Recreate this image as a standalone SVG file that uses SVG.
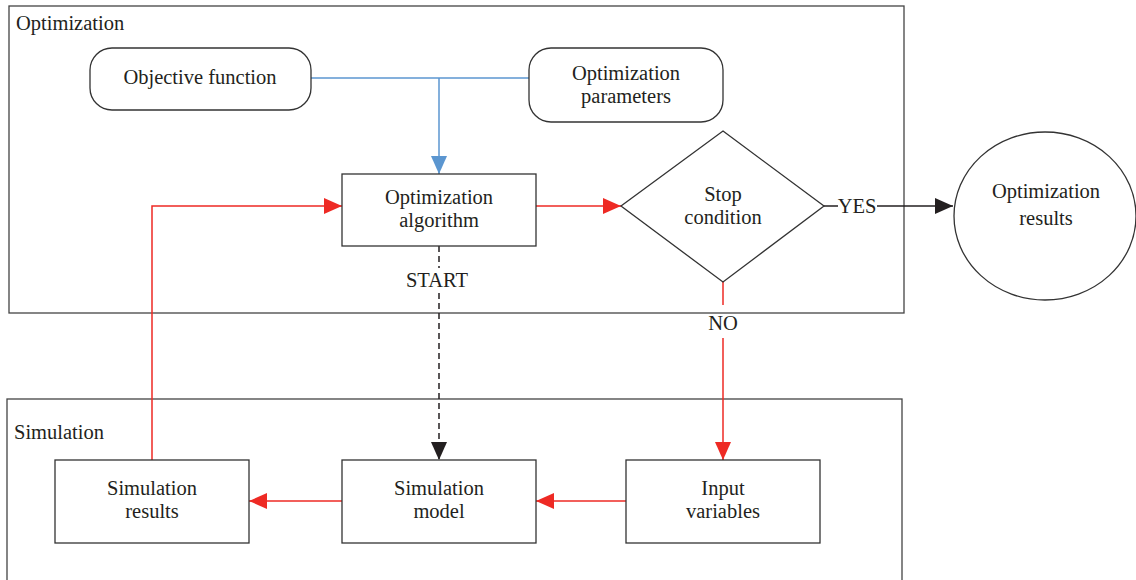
<svg xmlns="http://www.w3.org/2000/svg" width="1136" height="580" viewBox="0 0 1136 580">
<style>
text{font-family:"Liberation Serif","Times New Roman",serif;font-size:20.5px;fill:#231f20;text-anchor:middle}
.lbl{text-anchor:start}
.frame{fill:none;stroke:#444;stroke-width:1.3}
.node{fill:#fff;stroke:#333;stroke-width:1.3}
.red{fill:none;stroke:#ee2a24;stroke-width:1.5}
.blue{fill:none;stroke:#5b96d0;stroke-width:1.5}
.blk{fill:none;stroke:#231f20;stroke-width:1.5}
</style>
<defs>
<marker id="ar" markerWidth="18" markerHeight="16" refX="18" refY="8" orient="auto" markerUnits="userSpaceOnUse"><path d="M0,0L18,8L0,16z" fill="#ee2a24"/></marker>
<marker id="ab" markerWidth="18" markerHeight="16" refX="18" refY="8" orient="auto" markerUnits="userSpaceOnUse"><path d="M0,0L18,8L0,16z" fill="#5b96d0"/></marker>
<marker id="ak" markerWidth="18" markerHeight="16" refX="18" refY="8" orient="auto" markerUnits="userSpaceOnUse"><path d="M0,0L18,8L0,16z" fill="#231f20"/></marker>
</defs>
<g id="frame-optimization"><rect class="frame" x="9" y="6" width="895" height="307"/><text class="lbl" x="16" y="30">Optimization</text></g>
<g id="frame-simulation"><rect class="frame" x="7" y="399" width="895" height="190"/><text class="lbl" x="14" y="439">Simulation</text></g>
<g id="connectors">
<path class="blue" d="M311,78H529"/>
<path class="blue" d="M439,78V174" marker-end="url(#ab)"/>
<path class="red" d="M536,206H621" marker-end="url(#ar)"/>
<path class="blk" d="M824,206H838"/>
<path class="blk" d="M877,206H953" marker-end="url(#ak)"/>
<path class="red" d="M723,282V305"/>
<path class="red" d="M723,338V460" marker-end="url(#ar)"/>
<path class="red" d="M626,501H536" marker-end="url(#ar)"/>
<path class="red" d="M342,501H249" marker-end="url(#ar)"/>
<path class="red" d="M152,460V206H342" marker-end="url(#ar)"/>
<path class="blk" d="M439,246V268" stroke-dasharray="6,4"/>
<path class="blk" d="M439,293V460" stroke-dasharray="6,4" marker-end="url(#ak)"/>
<text x="857" y="213">YES</text>
<text x="723" y="330">NO</text>
<text x="437" y="287">START</text>
</g>
<g id="objective-function"><rect class="node" x="90" y="48" width="221" height="62" rx="22"/><text x="200" y="84">Objective function</text></g>
<g id="optimization-parameters"><rect class="node" x="529" y="48" width="194" height="74" rx="22"/><text x="626" y="80">Optimization</text><text x="626" y="103">parameters</text></g>
<g id="optimization-algorithm"><rect class="node" x="342" y="174" width="194" height="72"/><text x="439" y="204">Optimization</text><text x="439" y="227">algorithm</text></g>
<g id="stop-condition"><path class="node" d="M723,131L824,206L723,282L621,206z"/><text x="723" y="201">Stop</text><text x="723" y="224">condition</text></g>
<g id="optimization-results"><ellipse class="node" cx="1045" cy="216" rx="91" ry="84"/><text x="1046" y="198">Optimization</text><text x="1046" y="225">results</text></g>
<g id="simulation-results"><rect class="node" x="55" y="460" width="194" height="83"/><text x="152" y="495">Simulation</text><text x="152" y="518">results</text></g>
<g id="simulation-model"><rect class="node" x="342" y="460" width="194" height="83"/><text x="439" y="495">Simulation</text><text x="439" y="518">model</text></g>
<g id="input-variables"><rect class="node" x="626" y="460" width="194" height="83"/><text x="723" y="495">Input</text><text x="723" y="518">variables</text></g>
</svg>
